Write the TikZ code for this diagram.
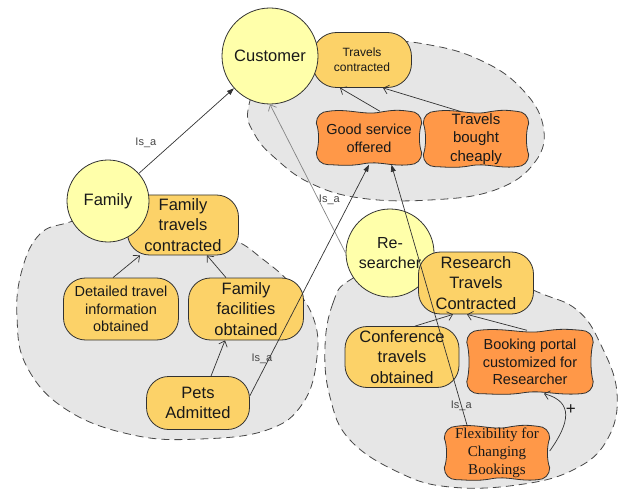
\documentclass[tikz,border=0pt]{standalone}
\usepackage{fontspec}
\setmainfont{Liberation Sans}
\newfontfamily\serifface{Liberation Serif}
\usetikzlibrary{arrows.meta,calc}

\definecolor{actorfill}{RGB}{255,255,170}
\definecolor{goalfill}{RGB}{252,210,104}
\definecolor{softfill}{RGB}{255,152,72}
\definecolor{cloudfill}{RGB}{230,230,230}
\definecolor{edge}{RGB}{50,50,50}
\definecolor{txt}{RGB}{25,25,25}
\definecolor{isacol}{RGB}{70,70,70}

\pgfdeclarelayer{cloudlayer}
\pgfdeclarelayer{fills}
\pgfsetlayers{cloudlayer,fills,main}

\newcommand\fsz[1]{\fontsize{#1}{1.22\dimexpr#1pt\relax}\selectfont}

% wavy outline of a soft goal, drawn around a named node
\newcommand\softoutline[1]{%
  \path[softgoal] let \p1=(#1.north west), \p2=(#1.south east),
      \n1={\x2-\x1}, \n2={\y1-\y2} in
   (\x1+12pt,\y1)
   .. controls (\x1+0.3*\n1,\y1+3pt) and (\x1+0.45*\n1,\y1-4pt) .. (\x1+0.6*\n1,\y1-1pt)
   .. controls (\x1+0.75*\n1,\y1+2pt) and (\x2-0.2*\n1,\y1+1pt) .. (\x2-12pt,\y1)
   .. controls (\x2-5pt,\y1) and (\x2,\y1-5pt) .. (\x2,\y1-12pt)
   .. controls (\x2-3pt,\y1-0.35*\n2) and (\x2-3pt,\y2+0.35*\n2) .. (\x2,\y2+12pt)
   .. controls (\x2,\y2+5pt) and (\x2-5pt,\y2) .. (\x2-12pt,\y2)
   .. controls (\x2-0.3*\n1,\y2-2pt) and (\x1+0.6*\n1,\y2+4pt) .. (\x1+0.45*\n1,\y2+1pt)
   .. controls (\x1+0.3*\n1,\y2-2pt) and (\x1+0.2*\n1,\y2) .. (\x1+12pt,\y2)
   .. controls (\x1+5pt,\y2) and (\x1,\y2+5pt) .. (\x1,\y2+12pt)
   .. controls (\x1+3pt,\y2+0.35*\n2) and (\x1+3pt,\y1-0.35*\n2) .. (\x1,\y1-12pt)
   .. controls (\x1,\y1-5pt) and (\x1+5pt,\y1) .. (\x1+12pt,\y1) -- cycle;
}

\tikzset{
  actor/.style={circle, draw=edge, fill=actorfill, line width=0.8pt,
    align=center, inner sep=0pt, text=txt},
  hardgoal/.style={rectangle, rounded corners=22pt, draw=edge, fill=goalfill,
    line width=0.8pt, align=center, inner sep=0pt, text=txt},
  softnode/.style={rectangle, inner sep=0pt, align=center, text=txt},
  softgoal/.style={draw=edge, fill=softfill, line width=0.8pt},
  boundary/.style={draw=edge!90, fill=cloudfill, line width=0.8pt,
    dash pattern=on 8pt off 5pt},
  link/.style={draw=edge, line width=0.7pt},
  opentip/.style={-{Straight Barb[length=5pt,width=9pt]}},
  filledtip/.style={-{Triangle[length=7pt,width=5pt]}},
  isa/.style={font=\fsz{11}, text=isacol, inner sep=1pt},
}

\begin{document}
\begin{tikzpicture}[x=1pt,y=-1pt]
\useasboundingbox (0,0) rectangle (619,492);

% actor boundaries
\begin{pgfonlayer}{cloudlayer}
\path[boundary] plot[smooth cycle, tension=0.7] coordinates {
  (248,110) (265,80) (320,55) (380,42) (430,45) (480,60) (520,87)
  (543,125) (535,162) (495,190) (430,200) (360,198) (310,183) (275,158) (255,135)};
\path[boundary] plot[smooth cycle, tension=0.7] coordinates {
  (70,222) (40,234) (22,270) (17,317) (27,367) (67,410) (133,435) (200,439)
  (267,430) (303,403) (317,357) (313,317) (290,283) (260,257) (235,240)
  (180,215) (110,210)};
\path[boundary] plot[smooth cycle, tension=0.7] coordinates {
  (350,280) (333,303) (325,347) (330,397) (350,440) (400,473) (450,487)
  (517,485) (573,470) (607,440) (617,393) (600,343) (577,310) (540,293)
  (480,270) (400,262)};
\end{pgfonlayer}

% Customer
\node[hardgoal, minimum width=99pt, minimum height=55pt, rounded corners=24pt,
  font=\fsz{12}] (tc) at (362,60) {Travels\\contracted};
\node[actor, minimum size=96pt, font=\fsz{16.5}] (cust) at (270,56) {Customer};
\node[softnode, minimum width=105pt, minimum height=53pt, font=\fsz{14.5}]
  (good) at (369,138) {Good service\\offered};
\node[softnode, minimum width=105pt, minimum height=55pt, font=\fsz{15}]
  (cheap) at (476,139) {Travels\\bought\\cheaply};

% Family
\node[hardgoal, minimum width=111pt, minimum height=60pt, font=\fsz{16.5}]
  (ftc) at (183,225) {Family\\travels\\contracted};
\node[actor, minimum size=82pt, font=\fsz{16.5}] (fam) at (108,201) {Family};
\node[hardgoal, minimum width=115pt, minimum height=62pt, font=\fsz{14.5}]
  (det) at (121,309) {Detailed travel\\information\\obtained};
\node[hardgoal, minimum width=115pt, minimum height=62pt, font=\fsz{16.5}]
  (ffac) at (246,309) {Family\\facilities\\obtained};
\node[hardgoal, minimum width=103pt, minimum height=53pt, font=\fsz{16.5}]
  (pets) at (198,403) {Pets\\Admitted};

% Researcher
\node[actor, minimum size=88pt, font=\fsz{16}] (res) at (390,253) {Re-\\searcher};
\node[hardgoal, minimum width=115pt, minimum height=62pt, font=\fsz{16.5}]
  (rtc) at (476,283) {Research\\Travels\\Contracted};
\node[hardgoal, minimum width=114pt, minimum height=61pt, font=\fsz{16.5}]
  (conf) at (402,357) {Conference\\travels\\obtained};
\node[softnode, minimum width=126pt, minimum height=63pt, font=\fsz{14.5}]
  (book) at (530,362) {Booking portal\\customized for\\Researcher};
\node[softnode, minimum width=105pt, minimum height=53pt,
  font={\serifface\fsz{15}}] (flex) at (497,453) {Flexibility for\\Changing\\Bookings};

\begin{pgfonlayer}{fills}
\softoutline{good}
\softoutline{cheap}
\softoutline{book}
\softoutline{flex}
\end{pgfonlayer}

% is-a links
\draw[link, filledtip] (fam) -- node[isa, pos=0.2, xshift=-12pt, yshift=14pt] {Is\_a} (cust);
\draw[link, draw=edge!60, opentip] (res.west) -- node[isa, pos=0.36, xshift=11pt] {Is\_a} (cust.south);
\draw[link, filledtip] (pets.8) -- node[isa, pos=0.16, xshift=-7pt] {Is\_a} (good.south);
\draw[link, filledtip] (flex.138) -- node[isa, pos=0.08] {Is\_a} (good.-50);

% decomposition links
\draw[link, opentip] ($(good.north)+(11,0)$) -- ($(tc.south)+(-22,0)$);
\draw[link, opentip] ($(cheap.north)+(-16,0)$) -- ($(tc.south)+(21,0)$);
\draw[link, opentip] ($(det.north)+(-8,0)$) -- ($(ftc.south)+(-43,0)$);
\draw[link, opentip] ($(ffac.north)+(-20,0)$) -- ($(ftc.south)+(24,0)$);
\draw[link, opentip] ($(pets.north)+(13,0)$) -- ($(ffac.south)+(-21,0)$);
\draw[link, opentip] ($(conf.north)+(13,0)$) -- ($(rtc.south)+(-23,0)$);
\draw[link, opentip] ($(book.north)+(-3,0)$) -- ($(rtc.south)+(-9,0)$);

% contribution link
\draw[link, opentip] ($(flex.east)+(0,-2)$) .. controls +(20,-28) and +(30,8) ..
  ($(book.south)+(14,0)$) node[pos=0.6, xshift=6pt, font=\fsz{17}, text=txt] {+};
\end{tikzpicture}
\end{document}
